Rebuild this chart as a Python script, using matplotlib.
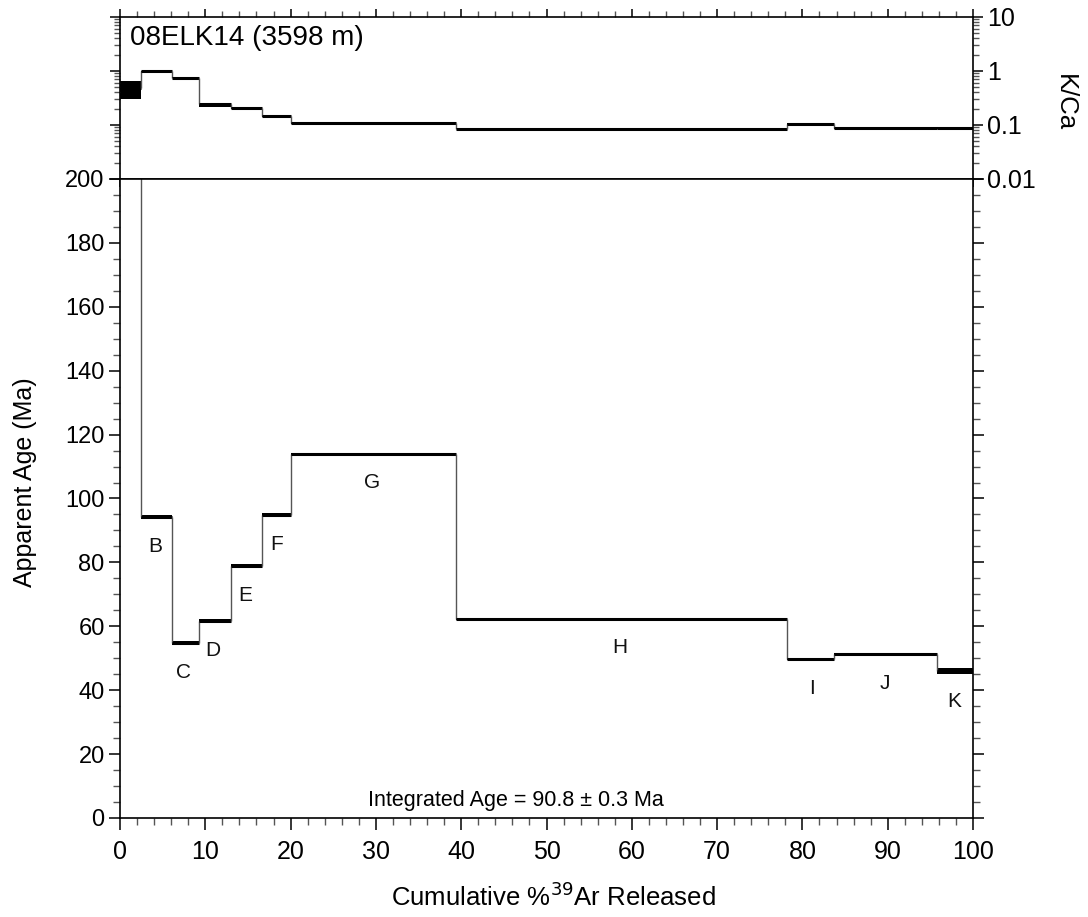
import matplotlib.pyplot as plt
from matplotlib.ticker import MultipleLocator, LogLocator, NullFormatter, FixedLocator

plt.rcParams["font.family"] = ["Liberation Sans", "DejaVu Sans"]

# cumulative %39Ar step boundaries
edges = [0, 2.46, 6.07, 9.27, 13.03, 16.6, 20.07, 39.4, 78.2, 83.7, 95.8, 100]
step_ids = ["A", "B", "C", "D", "E", "F", "G", "H", "I", "J", "K"]
ages = [300.0, 94.2, 54.8, 61.6, 78.8, 94.9, 114.0, 62.4, 49.7, 51.25, 46.0]
age_err = [5.0, 0.6, 0.6, 0.6, 0.6, 0.6, 0.3, 0.3, 0.4, 0.3, 0.8]
kca = [0.48, 0.98, 0.75, 0.24, 0.21, 0.145, 0.109, 0.086, 0.103, 0.087, 0.087]
kca_err = [0.18, 0.02, 0.02, 0.02, 0.01, 0.007, 0.004, 0.003, 0.004, 0.003, 0.003]

# label positions for step letters (x %, age)
label_x = [None, 4.1, 7.4, 10.9, 14.7, 18.4, 29.6, 58.6, 81.1, 89.7, 97.8]
label_y = [None, 85.1, 45.6, 52.5, 69.7, 85.6, 105.0, 53.4, 40.6, 42.2, 36.6]

sample = "08ELK14 (3598 m)"
integrated = "Integrated Age = 90.8 ± 0.3 Ma"

W, H = 1088, 917
fig = plt.figure(figsize=(W / 100, H / 100), dpi=100)
ax_k = fig.add_axes([120 / W, 1 - 179 / H, 853 / W, 162 / H])
ax = fig.add_axes([120 / W, 1 - 818 / H, 853 / W, 639 / H])


def draw_steps(a, vals, errs):
    n = len(vals)
    for i in range(n):
        x0, x1 = edges[i], edges[i + 1]
        lo, hi = vals[i] - errs[i], vals[i] + errs[i]
        a.fill_between([x0, x1], [lo, lo], [hi, hi], color="black", lw=0)
        a.hlines(vals[i], x0, x1, color="black", lw=2.2)
        if i < n - 1:
            a.vlines(x1, vals[i], vals[i + 1], color="#555555", lw=1.0)


draw_steps(ax, ages, age_err)
draw_steps(ax_k, kca, kca_err)

for lab, lx, ly in zip(step_ids, label_x, label_y):
    if lx is None:
        continue
    ax.text(lx, ly, lab, ha="center", va="center", fontsize=15, color="#111111")

ax.text(46.4, 5.5, integrated, ha="center", va="center", fontsize=15.5)

# age panel axes
ax.set_xlim(0, 100)
ax.set_ylim(0, 200)
ax.xaxis.set_major_locator(MultipleLocator(10))
ax.xaxis.set_minor_locator(MultipleLocator(2))
ax.yaxis.set_major_locator(MultipleLocator(20))
ax.yaxis.set_minor_locator(MultipleLocator(5))
ax.tick_params(axis="both", which="both", direction="out", top=False, right=True)
ax.tick_params(axis="x", which="major", length=8.5, width=1.1, labelsize=18, pad=7)
ax.tick_params(axis="x", which="minor", length=5, width=1.0, color="#555555")
ax.tick_params(axis="y", which="major", length=8, width=1.1, labelsize=17, pad=3)
ax.tick_params(axis="y", which="minor", length=5, width=1.0, color="#555555")
ax.set_ylabel("Apparent Age (Ma)", fontsize=18, va="center")
ax.yaxis.set_label_coords(-0.1115, 0.526)
ax.set_xlabel("Cumulative %$^{39}$Ar Released", fontsize=18.5, va="center")
ax.xaxis.set_label_coords(0.508, -0.124)

# K/Ca panel axes
ax_k.set_xlim(0, 100)
ax_k.set_yscale("log")
ax_k.set_ylim(0.01, 10)
ax_k.xaxis.set_major_locator(MultipleLocator(10))
ax_k.xaxis.set_minor_locator(MultipleLocator(2))
ax_k.xaxis.set_major_formatter(NullFormatter())
ax_k.yaxis.set_major_locator(FixedLocator([0.01, 0.1, 1, 10]))
ax_k.yaxis.set_minor_locator(LogLocator(base=10, subs=range(2, 10)))
ax_k.yaxis.set_minor_formatter(NullFormatter())
ax_k.set_yticklabels(["0.01", "0.1", "1", "10"])
ax_k.tick_params(axis="both", which="both", direction="out", top=True, bottom=True,
                 left=True, right=True, labelleft=False, labelright=True)
ax_k.tick_params(axis="x", which="major", length=6, width=1.1)
ax_k.tick_params(axis="x", which="minor", length=4.5, width=1.0, color="#555555")
ax_k.tick_params(axis="y", which="major", length=7, width=1.1, labelsize=18, pad=3)
ax_k.tick_params(axis="y", which="minor", length=4, width=1.0, color="#555555")
ax_k.yaxis.set_label_position("right")
ax_k.set_ylabel("K/Ca", fontsize=18.5, rotation=270, va="center")
ax_k.yaxis.set_label_coords(1.108, 0.47)
ax_k.text(0.012, 0.87, sample, transform=ax_k.transAxes, ha="left", va="center", fontsize=20)

for a in (ax, ax_k):
    for s in a.spines.values():
        s.set_linewidth(1.2)

fig.savefig("out.png", dpi=100)
